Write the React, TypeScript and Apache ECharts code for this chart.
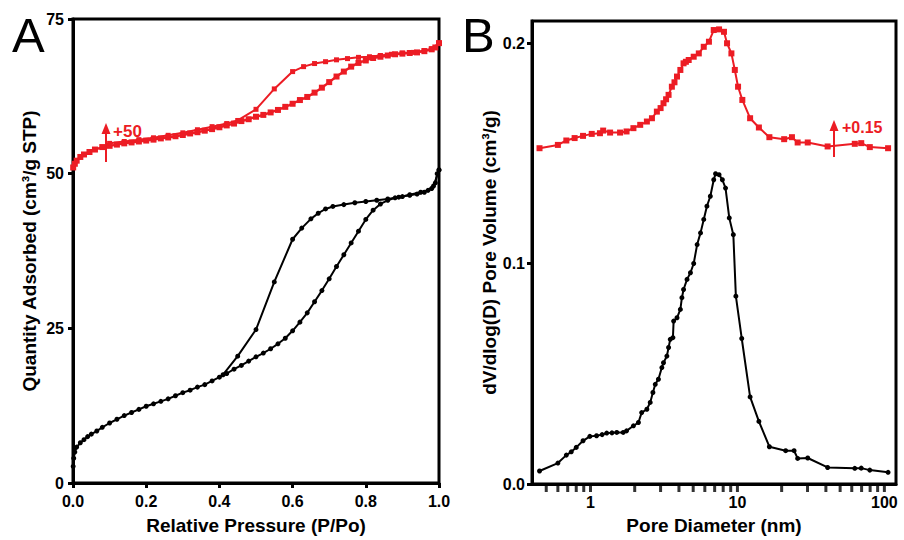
import React, { useEffect, useRef } from "react";
import * as echarts from "echarts";

// ---------- Panel A: N2 isotherms (P/Po, quantity adsorbed) ----------
const blackAdsorption: [number, number][] = [
  [0.0005, 2.7], [0.002, 4.0], [0.005, 5.0], [0.01, 5.8], [0.02, 6.5], [0.03, 7.0], [0.04, 7.5],
  [0.05, 7.9], [0.065, 8.4], [0.08, 9.0], [0.1, 9.7], [0.12, 10.3], [0.14, 10.9], [0.16, 11.4],
  [0.18, 11.9], [0.2, 12.4], [0.22, 12.8], [0.24, 13.2], [0.26, 13.6], [0.28, 14.1], [0.3, 14.6],
  [0.32, 15.0], [0.34, 15.5], [0.36, 15.9], [0.38, 16.5], [0.4, 17.1], [0.42, 17.7], [0.44, 18.4],
  [0.46, 19.0], [0.48, 19.7], [0.5, 20.4], [0.52, 21.0], [0.54, 21.7], [0.56, 22.5], [0.58, 23.4],
  [0.6, 24.6], [0.62, 26.0], [0.64, 27.5], [0.66, 29.3], [0.68, 31.1], [0.7, 33.0], [0.72, 35.0],
  [0.74, 36.9], [0.76, 38.8], [0.78, 40.7], [0.8, 42.6], [0.82, 44.1], [0.84, 45.1], [0.86, 45.7],
  [0.88, 46.1], [0.9, 46.3], [0.92, 46.5], [0.94, 46.7], [0.96, 47.0], [0.98, 47.6], [0.99, 48.5],
  [0.995, 50.0], [1.0, 50.6],
];
const blackDesorption: [number, number][] = [
  [1.0, 50.6], [0.985, 48.0], [0.97, 47.3], [0.95, 47.0], [0.92, 46.6], [0.89, 46.2], [0.86, 45.9],
  [0.83, 45.7], [0.8, 45.5], [0.77, 45.3], [0.74, 45.0], [0.71, 44.7], [0.69, 44.3], [0.67, 43.6],
  [0.65, 42.7], [0.625, 41.2], [0.6, 39.4], [0.55, 32.5], [0.5, 24.8], [0.45, 20.5], [0.41, 17.5],
];
const redAdsorption: [number, number][] = [
  [0.0005, 51.0], [0.005, 51.6], [0.01, 52.1], [0.02, 52.7], [0.03, 53.1], [0.045, 53.5], [0.06, 53.9],
  [0.08, 54.3], [0.1, 54.5], [0.12, 54.7], [0.14, 54.9], [0.16, 55.05], [0.18, 55.2], [0.2, 55.35],
  [0.22, 55.5], [0.24, 55.7], [0.26, 55.85], [0.28, 56.05], [0.3, 56.25], [0.32, 56.5], [0.34, 56.7],
  [0.36, 56.95], [0.38, 57.2], [0.4, 57.5], [0.42, 57.8], [0.44, 58.1], [0.46, 58.5], [0.48, 58.8],
  [0.5, 59.2], [0.52, 59.5], [0.54, 59.9], [0.56, 60.3], [0.58, 60.8], [0.6, 61.3], [0.62, 61.9],
  [0.64, 62.4], [0.66, 63.1], [0.68, 63.9], [0.7, 64.8], [0.72, 65.7], [0.74, 66.5], [0.76, 67.3],
  [0.78, 67.9], [0.8, 68.3], [0.82, 68.7], [0.84, 68.9], [0.86, 69.1], [0.88, 69.3], [0.9, 69.4],
  [0.92, 69.5], [0.94, 69.6], [0.96, 69.8], [0.98, 70.1], [0.99, 70.4], [1.0, 71.1],
];
const redDesorption: [number, number][] = [
  [1.0, 71.1], [0.98, 70.2], [0.96, 69.9], [0.93, 69.6], [0.9, 69.5], [0.87, 69.3], [0.84, 69.1],
  [0.81, 68.9], [0.78, 68.8], [0.75, 68.6], [0.72, 68.4], [0.69, 68.1], [0.66, 67.8], [0.63, 67.3],
  [0.6, 66.5], [0.55, 63.7], [0.5, 60.4], [0.45, 58.6], [0.42, 58.1], [0.38, 57.6], [0.34, 57.1],
  [0.3, 56.6], [0.26, 56.2], [0.22, 55.8], [0.18, 55.5], [0.14, 55.2], [0.1, 54.9],
];
const pressureTicks = [0, 0.2, 0.4, 0.6, 0.8, 1.0];
const quantityTicks = [0, 25, 50, 75];

// ---------- Panel B: pore size distributions (nm, cm3/g) ----------
const blackPSD: [number, number][] = [
  [0.45, 0.0059], [0.6, 0.0095], [0.685, 0.0131], [0.74, 0.0146], [0.8, 0.0166], [0.89, 0.0196],
  [0.99, 0.0216], [1.1, 0.0219], [1.2, 0.0224], [1.29, 0.0231], [1.4, 0.0232], [1.51, 0.0234],
  [1.67, 0.0234], [1.76, 0.0241], [1.96, 0.0264], [2.12, 0.0279], [2.23, 0.0324], [2.42, 0.0339],
  [2.55, 0.037], [2.66, 0.0415], [2.76, 0.0452], [2.9, 0.0475], [3.06, 0.0528], [3.14, 0.055],
  [3.31, 0.058], [3.4, 0.0619], [3.49, 0.0656], [3.64, 0.0664], [3.68, 0.0739], [3.88, 0.0754],
  [4.09, 0.0792], [4.19, 0.0845], [4.3, 0.0882], [4.54, 0.0928], [4.79, 0.0958], [5.04, 0.1],
  [5.32, 0.1086], [5.61, 0.1139], [5.9, 0.12], [6.2, 0.126], [6.54, 0.1305], [6.9, 0.138],
  [7.1, 0.1407], [7.5, 0.1403], [7.9, 0.138], [8.3, 0.1342], [8.8, 0.1207], [9.38, 0.1131],
  [9.76, 0.0852], [10.7, 0.066], [12.2, 0.0395], [14.0, 0.0284], [16.5, 0.0169], [21.3, 0.0151],
  [24.3, 0.0151], [25.7, 0.0116], [30.1, 0.0118], [41.1, 0.0075], [62.9, 0.0071], [69.6, 0.0072],
  [79.6, 0.0063], [106, 0.0053],
];
const redPSD: [number, number][] = [
  [0.45, 0.1523], [0.6, 0.1538], [0.685, 0.1558], [0.78, 0.1569], [0.89, 0.1579], [1.02, 0.1588],
  [1.16, 0.1591], [1.22, 0.1603], [1.36, 0.1594], [1.59, 0.1594], [1.76, 0.1599], [1.96, 0.1614],
  [2.18, 0.1629], [2.42, 0.1644], [2.62, 0.1659], [2.83, 0.1689], [3.0, 0.1705], [3.14, 0.1727],
  [3.27, 0.1745], [3.4, 0.1765], [3.58, 0.1802], [3.73, 0.1822], [3.88, 0.1848], [4.09, 0.1878],
  [4.3, 0.1908], [4.46, 0.1915], [4.66, 0.1923], [5.04, 0.1938], [5.46, 0.1953], [5.9, 0.1983],
  [6.4, 0.2006], [6.9, 0.2059], [7.5, 0.2062], [8.1, 0.2051], [8.5, 0.1999], [9.1, 0.1953],
  [9.6, 0.1878], [10.1, 0.1802], [10.8, 0.1742], [12.2, 0.1659], [14.0, 0.1617], [16.5, 0.1573],
  [20.8, 0.1564], [23.5, 0.1573], [25.7, 0.1549], [30.1, 0.1549], [41.1, 0.1531], [62.9, 0.1543],
  [69.6, 0.1546], [79.6, 0.1528], [106, 0.1523],
];
const diameterTicks = [0.5, 0.6, 0.7, 0.8, 0.9, 1, 2, 3, 4, 5, 6, 7, 8, 9, 10, 20, 30, 40, 50, 60, 70, 80, 90, 100];
const volumeTicks = [0, 0.1, 0.2];

const RED = "#ec1c24";
const FONT = "'Liberation Sans', Arial, sans-serif";

const App: React.FC = () => {
  const ref = useRef<HTMLDivElement>(null);

  useEffect(() => {
    if (!ref.current) return;
    const chart = echarts.init(ref.current, undefined, { renderer: "svg" });

    const tickLabel = { color: "#000", fontSize: 16, fontWeight: "bold" as const, fontFamily: FONT };
    const nameStyle = { color: "#000", fontSize: 19, fontWeight: "bold" as const, fontFamily: FONT };
    const axisLine = { show: true, lineStyle: { color: "#000", width: 3 } };
    const axisTick = { show: true, length: 5, lineStyle: { color: "#000", width: 3 } };

    const lineSeries = (
      data: [number, number][],
      color: string,
      symbol: string,
      size: number,
      idx: number,
      width: number
    ) => ({
      type: "line",
      xAxisIndex: idx,
      yAxisIndex: idx,
      data,
      symbol,
      symbolSize: size,
      showSymbol: true,
      lineStyle: { color, width },
      itemStyle: { color, borderWidth: 0 },
      silent: true,
    });

    chart.setOption({
      animation: false,
      backgroundColor: "#fff",
      grid: [
        { left: 73, top: 19, right: 465, bottom: 56, show: true, borderColor: "#000", borderWidth: 3, backgroundColor: "transparent" },
        { left: 532, top: 21, right: 8, bottom: 55, show: true, borderColor: "#000", borderWidth: 3, backgroundColor: "transparent" },
      ],
      xAxis: [
        {
          type: "value",
          gridIndex: 0,
          min: 0,
          max: 1,
          interval: 0.2,
          name: "Relative Pressure (P/Po)",
          nameLocation: "middle",
          nameGap: 33,
          nameTextStyle: nameStyle,
          axisLine,
          axisTick,
          splitLine: { show: false },
          axisLabel: { ...tickLabel, margin: 10, customValues: pressureTicks, formatter: (v: number) => v.toFixed(1) },
        },
        {
          type: "log",
          logBase: 10,
          gridIndex: 1,
          min: 0.4,
          max: 120,
          name: "Pore Diameter (nm)",
          nameLocation: "middle",
          nameGap: 32,
          nameTextStyle: nameStyle,
          axisLine,
          axisTick: { show: false },
          splitLine: { show: false },
          minorTick: { show: false },
          axisLabel: {
            ...tickLabel,
            margin: 10,
            formatter: (v: number) => {
              const l = Math.log10(v);
              return Math.abs(l - Math.round(l)) < 1e-6 ? String(Math.round(v)) : "";
            },
          },
        },
      ],
      yAxis: [
        {
          type: "value",
          gridIndex: 0,
          min: 0,
          max: 75,
          interval: 25,
          name: "Quantity Adsorbed (cm³/g STP)",
          nameLocation: "middle",
          nameGap: 34,
          nameTextStyle: nameStyle,
          axisLine,
          axisTick,
          splitLine: { show: false },
          axisLabel: { ...tickLabel, margin: 9, customValues: quantityTicks },
        },
        {
          type: "value",
          gridIndex: 1,
          min: 0,
          max: 0.21,
          name: "dV/dlog(D) Pore Volume (cm³/g)",
          nameLocation: "middle",
          nameGap: 33,
          nameTextStyle: nameStyle,
          axisLine,
          axisTick: { ...axisTick, customValues: volumeTicks },
          splitLine: { show: false },
          axisLabel: {
            ...tickLabel,
            margin: 7,
            customValues: volumeTicks,
            formatter: (v: number) => (Math.abs(v * 10 - Math.round(v * 10)) < 1e-6 ? v.toFixed(1) : ""),
          },
        },
      ],
      series: [
        lineSeries(blackAdsorption, "#000", "circle", 5, 0, 2),
        lineSeries(blackDesorption, "#000", "circle", 5, 0, 2),
        lineSeries(redAdsorption, RED, "rect", 6, 0, 2.4),
        lineSeries(redDesorption, RED, "rect", 5, 0, 2),
        lineSeries(blackPSD, "#000", "circle", 5, 1, 2),
        lineSeries(redPSD, RED, "rect", 6, 1, 2),
        {
          type: "scatter",
          xAxisIndex: 1,
          yAxisIndex: 1,
          data: diameterTicks.map((d) => [d, 0]),
          symbol: "rect",
          symbolSize: [3, 8],
          symbolOffset: [0, 4],
          itemStyle: { color: "#000" },
          clip: false,
          silent: true,
          z: 10,
        },
      ],
      graphic: [
        { type: "text", left: 12, top: 10, style: { text: "A", fontSize: 49, fontFamily: FONT, fill: "#000" } },
        { type: "text", left: 462, top: 10, style: { text: "B", fontSize: 49, fontFamily: FONT, fill: "#000" } },
        // +50 arrow
        { type: "line", shape: { x1: 106, y1: 162, x2: 106, y2: 132 }, style: { stroke: RED, lineWidth: 2 } },
        { type: "polygon", shape: { points: [[106, 123], [101.5, 134], [110.5, 134]] }, style: { fill: RED } },
        { type: "text", x: 113, y: 131, style: { text: "+50", fontSize: 17, fontWeight: "bold", fontFamily: FONT, fill: RED, verticalAlign: "middle" } },
        // +0.15 arrow
        { type: "line", shape: { x1: 834, y1: 157, x2: 834, y2: 129 }, style: { stroke: RED, lineWidth: 2 } },
        { type: "polygon", shape: { points: [[834, 120], [829.5, 131], [838.5, 131]] }, style: { fill: RED } },
        { type: "text", x: 842, y: 127, style: { text: "+0.15", fontSize: 16, fontWeight: "bold", fontFamily: FONT, fill: RED, verticalAlign: "middle" } },
      ],
    });

    return () => chart.dispose();
  }, []);

  return <div ref={ref} style={{ position: "fixed", left: 0, top: 0, width: 904, height: 540 }} />;
};

export default App;
